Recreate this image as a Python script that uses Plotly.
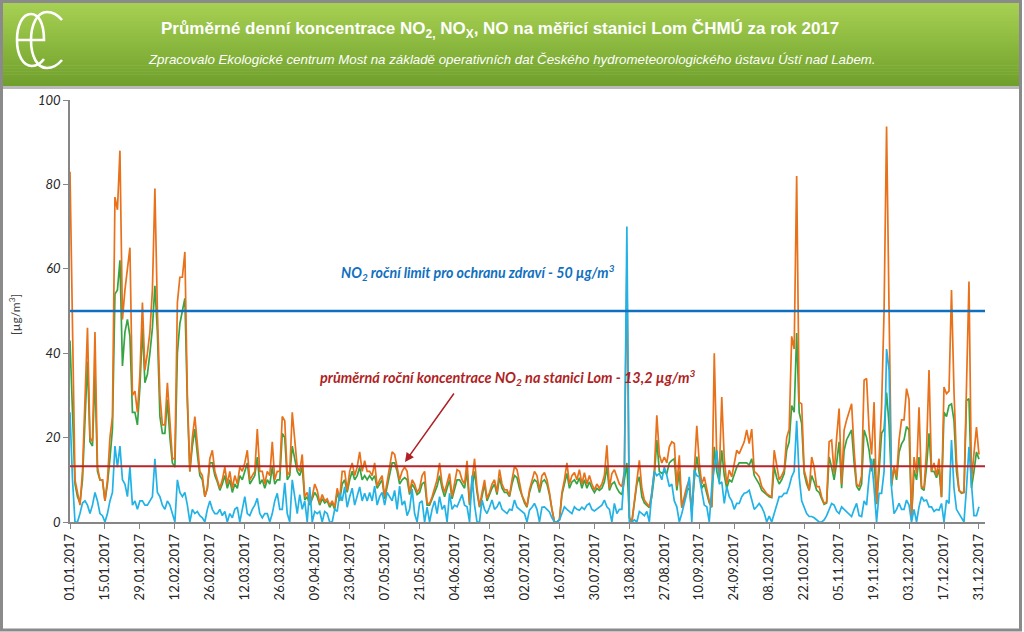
import pandas as pd
import plotly.graph_objects as go

# ---------------- data (daily means, µg/m3) ----------------
dates = pd.date_range("2017-01-01", "2017-12-31", freq="D")

nox_jan = [83, 40, 10, 7, 4, 12, 30, 46, 20, 19, 45, 13, 10, 10, 5, 10, 20, 25, 77, 74, 88, 48, 55, 60, 65, 30, 31, 26, 35, 52, 36]
nox_feb = [40, 45, 55, 79, 50, 30, 23, 23, 33, 23, 15, 15, 52, 58, 58, 64, 30, 12, 20, 25, 18, 12, 11, 6, 8, 15, 17, 12]
nox_mar = [10, 8, 10, 13, 9, 12, 8, 11, 9, 13, 12, 14, 17, 10, 11, 12, 22, 12, 12, 9, 12, 11, 19, 10, 12, 12, 25, 24, 11, 12, 26]
nox_apr = [19, 13, 12, 16, 6, 7, 4.5, 6, 9, 7.5, 4.5, 6.5, 5, 5.5, 4, 5, 3.5, 8, 5.5, 12, 12, 7.5, 12, 14, 11, 13, 16.6, 12, 14.5, 12]
nox_may = [12, 11, 14, 8.5, 10, 11, 6, 9.5, 13, 16.6, 16, 13, 10, 12, 13, 12, 7, 10, 9, 7, 8, 11, 12, 4.5, 4.3, 6, 8, 10, 14, 9, 7]
nox_jun = [9, 11.5, 6, 9, 12.4, 12, 10, 9, 14.5, 4.4, 9, 15, 8, 3.7, 7, 10, 5.6, 7, 9, 10, 7, 12.4, 9, 7.6, 7.6, 6.3, 10, 13.2, 12.4, 9]
nox_jul = [6.3, 5, 3.7, 7.6, 10, 12, 11, 7.6, 11, 11.7, 10, 7, 3, 0, 0, 0.5, 7, 10, 14, 9, 11, 11.7, 10, 12.4, 9, 11.7, 9, 11, 9, 7.6, 9]
nox_aug = [8, 9, 11, 18.2, 8, 11.5, 12.4, 10.7, 9, 8.4, 12, 60, 1, 0, 5.2, 10, 14.6, 8, 5.2, 4.4, 3.6, 7, 12.3, 25.3, 16, 14, 15.4, 14, 17.8, 19, 18.6]
nox_sep = [8.4, 15.8, 3.6, 6, 8.4, 10, 2.4, 12, 22.8, 14, 9, 10.7, 7.5, 5, 3.6, 40, 15.4, 11.5, 29.6, 15, 9, 12.3, 10.7, 14, 17, 16.2, 17.8, 19, 21.8, 18.6]
nox_oct = [22, 12, 11.5, 10.7, 8.4, 7.5, 6.7, 6.3, 6, 17, 13, 10, 11, 12.3, 20, 22, 44, 41, 82, 28.4, 28, 12.3, 10, 7.5, 15.4, 13, 8.4, 8.4, 6, 4.4, 4.8]
nox_nov = [19, 19.4, 11.5, 20, 26.9, 9, 21.8, 24.2, 26, 28, 17, 9, 8.4, 11, 33.6, 34, 21.8, 16, 28.4, 4.4, 15, 27.2, 50, 93.7, 50, 9.1, 13, 10.7, 19.4, 24.2]
nox_dec = [24.2, 31.6, 29, 0.5, 15.4, 11.5, 27.2, 8.4, 8, 17, 36, 12, 14, 11, 15, 5.9, 32, 30.4, 31, 55, 31, 14.7, 7.5, 7, 7, 29.6, 57, 10, 16, 22.5, 16]

no2_jan = [43, 25, 9, 6, 4.5, 10, 25, 38, 19, 18, 35, 12, 10, 10, 5, 9, 15, 22, 54, 55, 62, 37, 45, 48, 44, 26, 26, 23, 32, 46, 33]
no2_feb = [35, 40, 46, 56, 45, 25, 21, 21, 29, 20, 14, 13, 40, 47, 50, 53, 28, 12, 18, 22, 16, 11, 10, 6, 8, 14, 14, 11]
no2_mar = [9.5, 7.5, 9, 11, 8, 10, 7, 9, 8, 11, 10, 12, 14, 9, 10, 11, 15.4, 9, 10, 8, 10, 9, 13, 9, 10, 10, 21, 20, 10, 11, 18]
no2_apr = [15, 12, 11, 13, 5.2, 6, 4, 5.5, 7, 6, 4, 5.5, 4.5, 5, 3.5, 4.5, 3, 7, 5, 9, 10, 7, 10, 12, 10, 11, 13, 10, 11, 10]
no2_may = [11, 10, 11, 8, 9, 10, 5.5, 8.5, 11, 14, 14, 12, 9, 10, 10.5, 10, 6.5, 9, 8, 6.5, 7, 9, 9.5, 4, 4, 5.5, 7, 8.5, 11, 8, 6]
no2_jun = [8, 10, 5.5, 8, 10, 10, 9, 8, 12, 4, 8, 12, 7, 3.5, 6, 9, 5, 6.5, 8, 9, 6.5, 10.5, 8, 7, 7, 6, 9, 11, 10.5, 8]
no2_jul = [6, 4.5, 3.5, 7, 9, 10, 9.5, 7, 9.5, 10, 9, 6.5, 3, 0, 0, 0.5, 6.5, 9, 11.5, 8, 9.5, 10, 9, 10.5, 8, 10, 8, 9.5, 8, 7, 8]
no2_aug = [7.5, 8, 9.5, 13, 7.5, 9, 9.5, 8, 7, 6.5, 10, 14, 1, 0, 4.5, 9, 10.7, 6, 4.5, 4, 3.4, 6, 11, 19.4, 12, 11.5, 12, 11.5, 14, 14.6, 15]
no2_sep = [7.5, 12, 3.4, 5.5, 7.5, 8, 2.4, 10, 15.5, 11.5, 8, 9, 7, 4.5, 3.5, 17.8, 12, 9.5, 17, 11, 8, 10, 9.5, 11.5, 13, 14, 14, 14, 14, 13.5]
no2_oct = [15, 11, 10, 9, 7.5, 7, 6.3, 6, 5.8, 13, 10.5, 9, 10, 11.5, 17, 19, 27.6, 26, 44.8, 26, 23.3, 11.5, 9, 7.5, 11, 9.5, 7.5, 7, 5.5, 4.2, 4.5]
no2_nov = [15.4, 13, 10, 14, 19, 8, 17, 19.5, 20.5, 21.8, 14, 8.5, 7.5, 9, 21.8, 20, 17, 12, 15, 4.2, 12, 21, 22, 30.7, 23, 8.5, 13, 10, 16.5, 18.5]
no2_dec = [19.5, 22.6, 21.8, 1, 12.3, 10, 15.4, 8, 7.5, 13, 21, 12, 12, 10.5, 12.5, 5.9, 26, 25, 27.6, 28, 24, 12, 7.5, 6.8, 7, 28.8, 29.2, 8, 12, 16.6, 14.9]

no_jan = [26, 10, 0, 0, 2, 4.5, 5, 4, 2, 4, 7, 5, 2, 1.5, 0, 2, 5, 7, 18, 13, 18, 10, 9, 6, 13, 4, 5, 3, 5, 5, 4]
no_feb = [4, 5, 6, 15, 7, 6, 4, 3, 5, 4, 2, 0, 10, 7, 6, 7, 4, 0, 3, 2, 2.5, 1.5, 1, 0, 3, 5, 3, 2]
no_mar = [2, 3, 1.5, 2.5, 0, 2, 1, 3, 3.5, 0, 3, 6, 2, 1.5, 3, 4, 5.6, 2, 1, 2, 2, 0, 2, 5, 6.8, 3, 3, 9.3, 2, 0, 10]
no_apr = [6, 2, 6.5, 3, 5, 0, 8.3, 0, 2.5, 2, 2.5, 0, 2.5, 2, 0, 0, 3, 2.5, 6.8, 5, 8.3, 3.5, 6, 8, 4, 6, 8.3, 5, 6.8, 5]
no_may = [7, 5, 8.5, 4, 6, 7, 4, 7, 6, 5, 7.5, 3, 8.5, 4, 5, 1.5, 3, 7.8, 2, 0, 4.5, 5, 0, 3.5, 0, 3, 5, 2, 6, 3, 4]
no_jun = [0, 6.8, 3, 4, 3.6, 5, 6.5, 4, 3.6, 0, 11, 4, 0, 0, 5.2, 3, 2, 3.5, 5.2, 3, 3.6, 4.8, 3, 2.5, 2, 3, 2.8, 5.2, 3.5, 3]
no_jul = [2.5, 2, 0, 2.8, 3.5, 4.4, 3, 0, 3.5, 3.6, 3, 2.4, 1, 0, 0, 0.5, 2, 3.6, 3, 2.5, 2, 3.6, 3, 2.8, 3.5, 3, 4, 4.4, 3, 2.6, 3]
no_aug = [3.6, 4, 5.2, 3.6, 3, 0, 4.4, 2, 3, 3, 12, 70, 0, 0, 0.5, 0, 2.5, 2, 1.5, 2.5, 0, 7, 12, 11, 11.5, 10, 13, 11, 8.4, 9, 5]
no_sep = [3.6, 0, 2, 4.4, 6.8, 10.7, 0, 12.3, 11, 10.7, 7.5, 4, 3.6, 0, 8.4, 13, 17, 9, 9.5, 4.4, 8.4, 6, 5, 3, 4.4, 4.4, 6, 6.8, 7, 7.5]
no_oct = [5, 3, 3.6, 4.4, 3.5, 2.2, 0, 1.4, 0, 2, 3.6, 6, 6, 6.8, 6.8, 8.4, 10.7, 12, 24, 10.7, 5, 3.6, 2, 1.3, 1.3, 1, 0.5, 0, 0, 0.5, 1.5]
no_nov = [2.8, 4.4, 4, 2.6, 2, 3.6, 3, 2.4, 2, 1.3, 3, 4.4, 1.5, 1.3, 5, 4, 10.7, 15, 8, 0, 6.8, 6.8, 12, 41, 36, 8, 2, 3, 4.4, 3]
no_dec = [3, 5.2, 4, 0, 3, 0, 3.6, 6, 5, 5.2, 3.6, 3.6, 2.5, 3, 2.8, 4.4, 0, 5.2, 4.4, 19.4, 8, 3, 2, 1, 0, 8, 17.8, 9, 1.5, 1.5, 3.6]

limit_no2 = 50
mean_no2 = 13.2

nox = nox_jan + nox_feb + nox_mar + nox_apr + nox_may + nox_jun + nox_jul + nox_aug + nox_sep + nox_oct + nox_nov + nox_dec
no2 = no2_jan + no2_feb + no2_mar + no2_apr + no2_may + no2_jun + no2_jul + no2_aug + no2_sep + no2_oct + no2_nov + no2_dec
no = no_jan + no_feb + no_mar + no_apr + no_may + no_jun + no_jul + no_aug + no_sep + no_oct + no_nov + no_dec

# ---------------- figure ----------------
W, H = 1024, 632
ML, MR, MT, MB = 70, 39, 100, 110
PW = W - ML - MR
PH = H - MT - MB


def px(x):
    return (x - ML) / PW


def py(y):
    return (H - MB - y) / PH


fig = go.Figure()
fig.add_trace(go.Scatter(x=dates, y=no2, mode="lines", name="NO2",
                         line=dict(color="#35A543", width=1.7)))
fig.add_trace(go.Scatter(x=dates, y=nox, mode="lines", name="NOx",
                         line=dict(color="#E8711A", width=1.7)))
fig.add_trace(go.Scatter(x=dates, y=no, mode="lines", name="NO",
                         line=dict(color="#22B2E6", width=1.7)))

shapes = []
# reference lines
shapes.append(dict(type="line", xref="paper", yref="y", x0=0, x1=1, y0=limit_no2, y1=limit_no2,
                   line=dict(color="#1070C0", width=2.5)))
shapes.append(dict(type="line", xref="paper", yref="y", x0=0, x1=1, y0=mean_no2, y1=mean_no2,
                   line=dict(color="#B5262A", width=2)))

# header banner with vertical gradient
top_c = (166, 208, 82)
bot_c = (112, 160, 44)
N = 28
y_top, y_bot = 3, 86
for i in range(N):
    t = i / (N - 1)
    c = tuple(int(round(top_c[k] + (bot_c[k] - top_c[k]) * t)) for k in range(3))
    ya = y_top + (y_bot - y_top) * i / N
    yb = y_top + (y_bot - y_top) * (i + 1) / N + 0.6
    shapes.append(dict(type="rect", xref="paper", yref="paper",
                       x0=px(3), x1=px(1020), y0=py(yb), y1=py(ya),
                       fillcolor="rgb(%d,%d,%d)" % c, line=dict(width=0), layer="above"))
# shadow under banner
shapes.append(dict(type="rect", xref="paper", yref="paper", x0=px(3), x1=px(1020),
                   y0=py(89), y1=py(86), fillcolor="#b9b9b9", line=dict(width=0)))
# outer frame
shapes.append(dict(type="rect", xref="paper", yref="paper", x0=px(1.5), x1=px(1020.5),
                   y0=py(630), y1=py(1.5), line=dict(color="#8a8a8a", width=3)))


def path(cmds):
    parts = []
    for c, pts in cmds:
        parts.append(c + " " + " ".join("%.5f,%.5f" % (px(x), py(y)) for x, y in pts))
    return " ".join(parts)


logo_e = [("M", [(18, 40)]), ("L", [(44, 40)]),
          ("C", [(44, 22), (38, 14), (31, 14)]),
          ("C", [(22, 14), (17, 26), (17, 40)]),
          ("C", [(17, 55), (23, 66), (32, 66)]),
          ("C", [(37, 66), (41, 63), (44, 59)])]
logo_c = [("M", [(62, 20)]),
          ("C", [(57, 14), (52, 12), (47, 12)]),
          ("C", [(37, 12), (31, 25), (31, 40)]),
          ("C", [(31, 56), (37, 68), (47, 68)]),
          ("C", [(52, 68), (57, 66), (62, 60)])]
for lg in (logo_e, logo_c):
    shapes.append(dict(type="path", xref="paper", yref="paper", path=path(lg),
                       line=dict(color="white", width=2.6)))

narrow = "Liberation Sans Narrow, Arial Narrow, Liberation Sans, sans-serif"
annotations = [
    dict(x=px(500), y=py(30), xref="paper", yref="paper", showarrow=False,
         text="<b>Průměrné denní koncentrace NO<sub>2,</sub> NO<sub>X</sub>, NO na měřicí stanici Lom ČHMÚ za rok 2017</b>",
         font=dict(family=narrow, size=17, color="white"), xanchor="center", yanchor="middle"),
    dict(x=px(512), y=py(59), xref="paper", yref="paper", showarrow=False,
         text="<i>Zpracovalo Ekologické centrum Most na základě operativních dat Českého hydrometeorologického ústavu Ústí nad Labem.</i>",
         font=dict(family=narrow, size=13.3, color="white"), xanchor="center", yanchor="middle"),
    dict(x=px(478), y=py(272), xref="paper", yref="paper", showarrow=False,
         text="<b><i>NO<sub>2</sub> roční limit pro ochranu zdraví - 50 µg/m<sup>3</sup></i></b>",
         font=dict(family="Lato, sans-serif", size=14.2, color="#1070C0"), xanchor="center", yanchor="middle"),
    dict(x=px(507), y=py(377), xref="paper", yref="paper", showarrow=False,
         text="<b><i>průměrná roční koncentrace NO<sub>2</sub> na stanici Lom - 13,2 µg/m<sup>3</sup></i></b>",
         font=dict(family="Lato, sans-serif", size=14.5, color="#B01F24"), xanchor="center", yanchor="middle"),
    dict(x=px(405), y=py(462), xref="paper", yref="paper", ax=50, ay=-70, text="",
         showarrow=True, arrowhead=2, arrowsize=1.2, arrowwidth=1.5, arrowcolor="#B01F24"),
    dict(x=px(15), y=py(315), xref="paper", yref="paper", showarrow=False, textangle=-90,
         text="[µg/m<sup>3</sup>]", font=dict(family="Lato, sans-serif", size=12, color="#404040"),
         xanchor="center", yanchor="middle"),
]

fig.update_layout(
    width=W, height=H,
    margin=dict(l=ML, r=MR, t=MT, b=MB),
    paper_bgcolor="white", plot_bgcolor="white",
    showlegend=False,
    shapes=shapes, annotations=annotations,
    xaxis=dict(type="date", range=["2017-01-01", "2018-01-02 10:00"],
               tick0="2017-01-01", dtick=14 * 86400000, tickformat="%d.%m.%Y",
               tickangle=-90, ticks="outside", ticklen=5, tickcolor="#868686",
               showline=True, linecolor="#868686", linewidth=1.5, showgrid=False, zeroline=False,
               tickfont=dict(family="Lato, sans-serif", size=13, color="#262626")),
    yaxis=dict(range=[0, 100], dtick=20, ticks="outside", ticklen=5, tickcolor="#868686",
               showline=True, linecolor="#868686", linewidth=1.5, showgrid=False, zeroline=False,
               tickfont=dict(family="Lato, sans-serif", size=13, color="#262626", style="italic")),
)

fig.write_html("out.html", config={"displayModeBar": False},
               post_script="document.body.style.margin='0';document.body.style.overflow='hidden';")
